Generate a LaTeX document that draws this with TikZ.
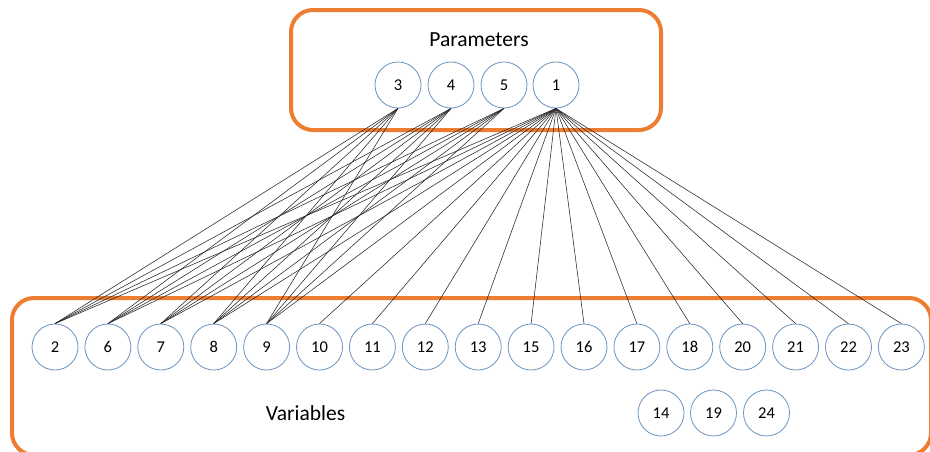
\documentclass[tikz,border=0pt]{standalone}
\usepackage{fontspec}
\setmainfont{Carlito}
\begin{document}
\begin{tikzpicture}[x=1pt,y=-1pt,
  var/.style={circle,draw=circblue,line width=0.8pt,minimum size=46pt,inner sep=0pt,font=\fontsize{16.5}{16.5}\selectfont},
  group/.style={draw=boxorange,line width=4pt,rounded corners=22pt},
  link/.style={black!85,line width=0.55pt},
  title/.style={font=\fontsize{21.5}{21.5}\selectfont}]
\definecolor{circblue}{HTML}{6A93BF}
\definecolor{boxorange}{HTML}{ED7D31}
\useasboundingbox (0,0) rectangle (930,451);
% group boxes
\node[group,minimum width=370pt,minimum height=120pt] (pbox) at (476,70) {};
\node[group,minimum width=919pt,minimum height=157pt,anchor=north west] (vbox) at (10,296) {};
\node[title] (ptitle) at (479,40) {Parameters};
\node[title] (vtitle) at (305.5,413) {Variables};
% parameters
\foreach \n/\x in {3/398,4/451,5/504,1/556}{
  \node[var] (p\n) at (\x,85) {\n};
}
% variables first row
\foreach \n [count=\i from 0] in {2,6,7,8,9,10,11,12,13,15,16,17,18,20,21,22,23}{
  \node[var] (v\n) at ({55+52.9*\i},347) {\n};
}
% second row
\foreach \n/\x in {14/661,19/713.5,24/766.5}{
  \node[var] (v\n) at (\x,413) {\n};
}
% links
\foreach \p in {3,4,5}{
  \foreach \v in {2,6,7,8,9}{
    \draw[link] (p\p.south) -- (v\v.north);
  }
}
\foreach \v in {2,6,7,8,9,10,11,12,13,15,16,17,18,20,21,22,23}{
  \draw[link] (p1.south) -- (v\v.north);
}
\end{tikzpicture}
\end{document}
